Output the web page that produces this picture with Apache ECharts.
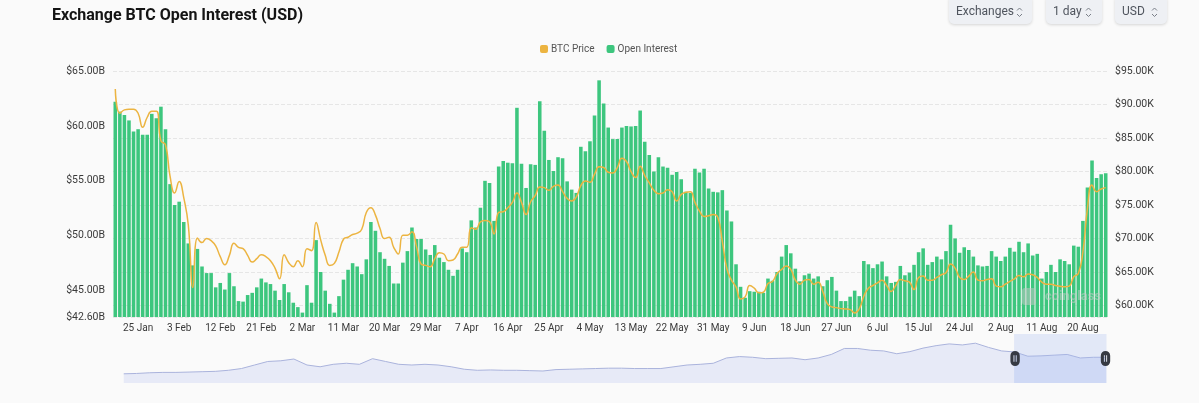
<!DOCTYPE html>
<html>
<head>
<meta charset="utf-8">
<title>Exchange BTC Open Interest (USD)</title>
<script src="https://cdn.jsdelivr.net/npm/echarts@6/dist/echarts.min.js"></script>
<style>
    html, body { margin: 0; padding: 0; background: #fafafa; }
    #chart { width: 1199px; height: 403px; }
</style>
</head>
<body>
<div id="chart"></div>
<script>
// 数据 ===============================================================
// daily points, first day 20 Jan
var firstDay = [2026, 0, 20];
var monthNames = ['Jan', 'Feb', 'Mar', 'Apr', 'May', 'Jun', 'Jul', 'Aug', 'Sep', 'Oct', 'Nov', 'Dec'];

// open interest, $B
var openInterest = [
    62.2, 61.3, 61.0, 60.5, 59.5, 59.7, 59.2, 59.2, 61.1, 60.7,
    61.75, 59.7, 54.7, 52.8, 53.1, 51.25, 49.3, 47.3, 48.8, 47.2,
    46.6, 46.6, 45.3, 45.7, 45.1, 46.6, 45.4, 44.05, 44.0, 44.6,
    44.8, 45.3, 46.1, 45.75, 45.6, 45.0, 44.15, 45.6, 44.85, 43.9,
    43.5, 43.0, 45.5, 43.9, 49.6, 46.7, 45.0, 43.8, 43.0, 44.5,
    46.0, 46.9, 47.5, 47.2, 46.5, 47.85, 51.25, 50.45, 48.5, 47.9,
    47.25, 45.65, 45.65, 47.55, 48.6, 50.75, 49.7, 49.7, 48.75, 48.25,
    49.15, 48.0, 47.6, 46.9, 46.35, 46.9, 48.85, 48.5, 51.4, 50.75,
    52.55, 55.0, 54.8, 51.35, 56.3, 56.8, 56.65, 56.6, 61.65, 56.55,
    54.35, 56.5, 56.45, 62.25, 59.55, 56.9, 55.9, 57.15, 57.05, 54.95,
    54.2, 53.9, 58.1, 57.7, 58.6, 60.95, 64.15, 62.05, 59.85, 58.8,
    58.8, 59.85, 60.0, 59.95, 60.0, 61.4, 58.55, 57.35, 55.85, 57.15,
    56.3, 56.2, 55.55, 55.8, 55.15, 54.0, 53.9, 56.1, 55.75, 56.1,
    54.3, 54.0, 53.95, 54.15, 52.3, 51.3, 47.4, 45.35, 44.35, 44.95,
    44.9, 44.9, 44.8, 46.1, 45.9, 46.7, 48.1, 49.15, 48.4, 47.0,
    45.85, 46.4, 46.55, 46.1, 46.3, 45.4, 45.95, 46.25, 45.0, 44.05,
    44.05, 44.45, 45.0, 44.5, 47.7, 47.4, 47.05, 47.4, 47.65, 46.3,
    45.7, 45.8, 47.25, 46.4, 46.65, 47.35, 48.5, 48.85, 47.35, 47.6,
    48.1, 47.85, 48.6, 51.0, 49.75, 48.45, 48.95, 48.7, 48.1, 47.3,
    47.2, 47.25, 48.6, 48.1, 47.7, 48.1, 48.9, 48.55, 49.45, 48.5,
    49.3, 48.2, 48.35, 46.1, 46.7, 47.35, 46.7, 47.85, 47.7, 47.4,
    49.1, 49.0, 51.35, 54.4, 56.85, 55.25, 55.6, 55.7
];

// BTC price, $K
var btcPrice = [
    92.3, 88.7, 89.2, 89.3, 89.3, 88.7, 86.6, 88.1, 89.0, 89.0,
    84.6, 84.0, 79.3, 76.8, 78.5, 76.1, 72.0, 62.7, 70.1, 69.4,
    70.0, 69.7, 68.9, 67.3, 66.1, 67.5, 69.3, 68.7, 68.5, 67.5,
    66.5, 67.0, 67.6, 67.3, 66.7, 65.6, 64.0, 67.6, 66.4, 65.8,
    66.7, 65.8, 68.5, 68.2, 72.4, 69.8, 67.5, 66.0, 66.3, 68.0,
    69.9, 70.2, 70.6, 70.8, 71.4, 73.9, 74.6, 73.5, 71.5, 70.0,
    70.2, 68.7, 67.7, 70.5, 70.5, 71.0, 68.8, 66.2, 66.0, 65.8,
    67.0, 67.9, 67.7, 66.7, 66.8, 67.7, 68.7, 68.7, 71.6, 71.4,
    72.5, 72.7, 72.5, 70.7, 73.9, 74.0, 74.6, 75.4, 76.8, 75.4,
    73.6, 75.5, 76.4, 77.7, 77.6, 77.2, 77.8, 78.0, 77.0, 76.0,
    75.6, 76.2, 77.9, 78.6, 78.4, 79.6, 80.7, 80.6, 79.9, 79.8,
    80.6, 82.0, 81.5, 80.0, 79.1, 80.8, 79.4, 78.3, 77.2, 76.7,
    76.8, 77.3, 77.0, 75.6, 76.6, 76.9, 77.0, 75.4, 74.1, 73.3,
    73.4, 73.6, 73.2, 69.6, 65.5, 63.8, 62.8, 61.0, 61.3, 63.0,
    62.6, 61.9, 62.0, 63.3, 63.6, 64.8, 65.4, 65.9, 65.4, 63.8,
    63.2, 63.8, 63.9, 63.2, 63.5, 62.1, 60.3, 59.8, 59.7, 59.55,
    59.5, 59.4, 58.9, 59.5, 61.4, 62.6, 63.0, 63.4, 63.8, 63.0,
    62.1, 63.0, 63.9, 63.7, 63.5, 62.4, 64.2, 64.4, 63.8, 63.8,
    64.2, 64.6, 64.9, 66.2, 65.6, 64.2, 63.9, 64.4, 65.0, 63.8,
    63.7, 63.9, 64.0, 62.9, 62.8, 63.2, 63.6, 64.0, 64.5, 64.3,
    64.7, 64.6, 64.2, 63.5, 63.2, 63.2, 63.0, 62.9, 62.8, 62.9,
    64.3, 64.8, 68.0, 74.5, 78.0, 77.0, 77.4, 77.6
];

// long history under the zoom slider, $B (evenly spaced samples)
var historyOI = [
    31.2, 31.6, 32.4, 32.8, 32.8, 33.2, 33.6, 34.0, 35.2, 37.2,
    41.2, 45.2, 46.0, 48.0, 41.2, 39.2, 42.0, 43.2, 42.0, 48.4,
    45.2, 42.0, 41.2, 42.0, 41.2, 39.2, 36.4, 35.2, 35.6, 35.2,
    35.2, 34.8, 34.4, 36.0, 36.4, 36.8, 37.2, 37.6, 37.6, 37.2,
    37.2, 37.2, 39.2, 41.2, 42.0, 43.2, 49.2, 50.8, 50.0, 48.4,
    48.8, 49.2, 47.2, 49.2, 53.2, 60.0, 60.0, 58.0, 57.2, 54.0,
    56.4, 60.4, 63.2, 65.2, 64.0, 66.0, 61.2, 57.2, 56.0, 51.2,
    51.6, 52.4, 53.2, 49.2, 50.0, 50.0
];

// axis ranges and label rule
var oiMin = 42.6, oiMax = 65;
var priceMin = 58.3, priceMax = 95;
var firstLabelIndex = 5, labelEvery = 9;

// 函数定义 ===========================================================
function buildDays(n) {
    var out = [];
    for (var i = 0; i < n; i++) {
        var d = new Date(Date.UTC(firstDay[0], firstDay[1], firstDay[2] + i));
        out.push(d.getUTCDate() + ' ' + monthNames[d.getUTCMonth()]);
    }
    return out;
}

function chevron(x, y) {
    // small up/down arrows of the select boxes
    return [{
        type: 'polyline', z: 20,
        shape: { points: [[x, y - 1.5], [x + 2.5, y - 4], [x + 5, y - 1.5]] },
        style: { stroke: '#7a7f88', lineWidth: 1, fill: null }
    }, {
        type: 'polyline', z: 20,
        shape: { points: [[x, y + 2], [x + 2.5, y + 4.5], [x + 5, y + 2]] },
        style: { stroke: '#7a7f88', lineWidth: 1, fill: null }
    }];
}

function selectBox(x, w, label) {
    var items = [{
        type: 'rect', z: 19,
        shape: { x: x, y: -5, width: w, height: 29, r: 5 },
        style: { fill: '#eef0f4', shadowBlur: 3, shadowOffsetY: 1, shadowColor: 'rgba(0,0,0,0.15)' }
    }, {
        type: 'text', z: 20,
        style: { text: label, x: x + 7, y: 12, verticalAlign: 'middle', fill: '#50555e',
                  fontSize: 12, fontFamily: 'Roboto' }
    }];
    return items;
}

var days = buildDays(openInterest.length);
var historyIdx = historyOI.map(function(v, i) { return i; });

var graphics = []
    .concat(selectBox(949, 83, 'Exchanges'), chevron(1017, 12))
    .concat(selectBox(1046, 56, '1 day'), chevron(1086, 12))
    .concat(selectBox(1115, 52, 'USD'), chevron(1152, 12));

// watermark
graphics.push({
    type: 'rect', z: 20,
    shape: { x: 1022, y: 288, width: 14, height: 17, r: 3 },
    style: { fill: 'rgba(200,200,200,0.5)' }
});
graphics.push({
    type: 'text', z: 20,
    style: { text: 'coinglass', x: 1045, y: 297, verticalAlign: 'middle',
             fill: 'rgba(200,200,200,0.55)', fontSize: 13, fontWeight: 'bold', fontFamily: 'Roboto' }
});

var handlePath = 'path://M5,0 A5,5 0 0 1 10,5 V11 A5,5 0 0 1 5,16 A5,5 0 0 1 0,11 V5 A5,5 0 0 1 5,0 Z' +
    ' M3.3,4.5 V11.5 H4.3 V4.5 Z M5.7,4.5 V11.5 H6.7 V4.5 Z';

var chart = echarts.init(document.getElementById('chart'));
var option = {
    backgroundColor: '#fafafa',
    animation: false,
    textStyle: { fontFamily: 'Roboto, sans-serif' },
    title: {
        text: 'Exchange BTC Open Interest (USD)',
        left: 47,
        top: 3,
        textStyle: { fontSize: 16, fontWeight: 'bold', color: '#141414', fontFamily: 'Roboto' }
    },
    legend: {
        data: ['BTC Price', 'Open Interest'],
        left: 535,
        top: 39,
        itemWidth: 8,
        itemHeight: 8,
        itemGap: 12,
        icon: 'roundRect',
        textStyle: { fontSize: 10, color: '#555', padding: [0, 0, 0, -2] }
    },
    grid: [
        { left: 113, right: 91, top: 71, bottom: 86 },
        { left: 121, right: 95, top: 334, height: 49 }
    ],
    xAxis: [
        {
            type: 'category',
            gridIndex: 0,
            data: days,
            axisLine: { show: false },
            axisTick: { show: false },
            axisLabel: {
                interval: function(i) {
                    return i >= firstLabelIndex && (i - firstLabelIndex) % labelEvery === 0;
                },
                fontSize: 10,
                color: '#3a3a3a',
                margin: 6
            }
        },
        { type: 'category', gridIndex: 1, data: historyIdx, show: false }
    ],
    yAxis: [
        {
            type: 'value',
            gridIndex: 0,
            position: 'left',
            min: oiMin,
            max: oiMax,
            splitNumber: 5,
            splitLine: { show: false },
            axisLine: { show: false },
            axisTick: { show: false },
            axisLabel: {
                fontSize: 10.5,
                color: '#3a3a3a',
                margin: 8,
                formatter: function(v) { return '$' + v.toFixed(2) + 'B'; }
            }
        },
        {
            type: 'value',
            gridIndex: 0,
            position: 'right',
            min: priceMin,
            max: priceMax,
            splitNumber: 7,
            splitLine: { lineStyle: { type: 'dashed', color: '#e6e6e6' } },
            axisLine: { show: false },
            axisTick: { show: false },
            axisLabel: {
                showMinLabel: false,
                fontSize: 10.5,
                color: '#3a3a3a',
                margin: 7,
                formatter: function(v) { return '$' + v.toFixed(2) + 'K'; }
            }
        },
        { type: 'value', gridIndex: 1, show: false, scale: true }
    ],
    dataZoom: [{
        type: 'slider',
        xAxisIndex: 1,
        start: 90.6,
        end: 100,
        left: 121,
        right: 95,
        top: 334,
        height: 49,
        showDetail: false,
        brushSelect: false,
        moveHandleSize: 0,
        backgroundColor: 'rgba(0,0,0,0)',
        borderColor: 'rgba(0,0,0,0)',
        fillerColor: 'rgba(165,185,240,0.28)',
        dataBackground: {
            lineStyle: { color: '#aab3dc', width: 1, opacity: 1 },
            areaStyle: { color: '#e4e8f6', opacity: 0.9 }
        },
        selectedDataBackground: {
            lineStyle: { color: '#aab3dc', width: 1, opacity: 1 },
            areaStyle: { color: '#dce2f6', opacity: 0.9 }
        },
        handleIcon: handlePath,
        handleSize: 15,
        handleStyle: { color: '#363a43', borderColor: '#363a43', borderWidth: 0 }
    }],
    series: [
        {
            name: 'BTC Price',
            type: 'line',
            xAxisIndex: 0,
            yAxisIndex: 1,
            data: btcPrice,
            smooth: true,
            symbol: 'none',
            lineStyle: { width: 1.5, color: '#ecb441' },
            itemStyle: { color: '#ecb441' },
            z: 3
        },
        {
            name: 'Open Interest',
            type: 'bar',
            xAxisIndex: 0,
            yAxisIndex: 0,
            data: openInterest,
            barCategoryGap: '22%',
            itemStyle: { color: '#3dc67e' },
            z: 2
        },
        {
            name: 'history',
            type: 'line',
            xAxisIndex: 1,
            yAxisIndex: 2,
            data: historyOI,
            symbol: 'none',
            silent: true,
            lineStyle: { opacity: 0 }
        }
    ],
    graphic: graphics
};

chart.setOption(option);
</script>
</body>
</html>
